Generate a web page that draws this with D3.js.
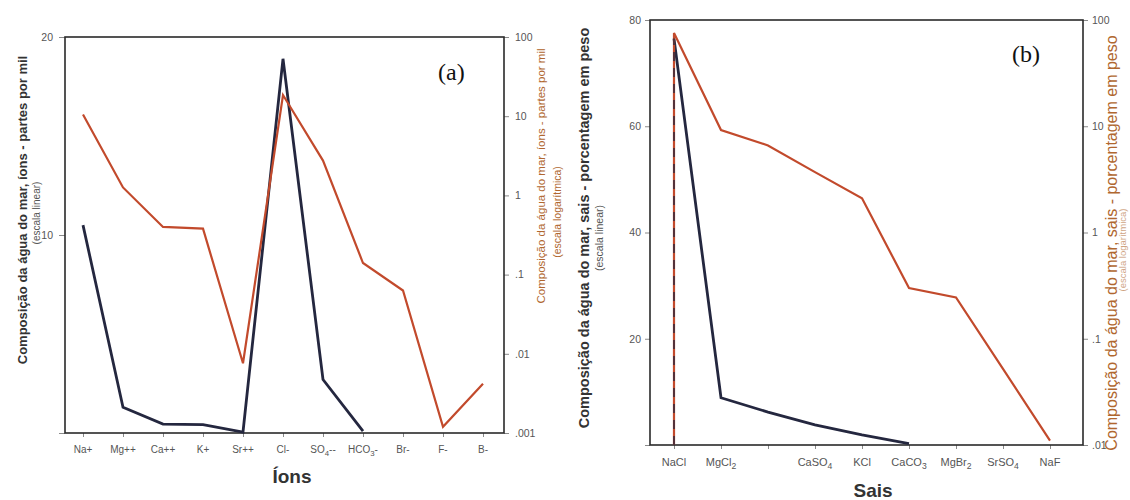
<!DOCTYPE html>
<html>
<head>
<meta charset="utf-8">
<script src="https://cdn.jsdelivr.net/npm/d3@7"></script>
<style>
  body { margin: 0; background: #fff; }
  svg { display: block; font-family: "Liberation Sans", Arial, sans-serif; }
</style>
</head>
<body>
<svg id="chart" width="1130" height="500"></svg>
<script>
// Panel (a): dissolved ions in seawater, parts per thousand
const ions = ["Na+", "Mg++", "Ca++", "K+", "Sr++", "Cl-", "SO4--", "HCO3-", "Br-", "F-", "B-"];
const ionsLinear = [10.5, 1.3, 0.45, 0.42, 0.05, 18.9, 2.7, 0.1];
const ionsLog = [10.5, 1.26, 0.40, 0.38, 0.0076, 18.5, 2.75, 0.14, 0.063, 0.0012, 0.0042];
const ionLinTicks = [0, 10, 20];
const ionLinMinor = [5, 15];
const ionLogTicks = [0.001, 0.01, 0.1, 1, 10, 100];

// Panel (b): salts in seawater, percentage by weight
const salts = ["NaCl", "MgCl2", "", "CaSO4", "KCl", "CaCO3", "MgBr2", "SrSO4", "NaF"];
const saltsLinear = [76.5, 8.9, 6.2, 3.8, 1.9, 0.25];
const saltsLog = [75.5, 9.2, 6.6, 3.7, 2.1, 0.30, 0.245, 0.052, 0.011];
const saltLinTicks = [0, 20, 40, 60, 80];
const saltLinMinor = [10, 30, 50, 70];
const saltLogTicks = [0.01, 0.1, 1, 10, 100];

const DARK = "#24273f";
const RED = "#c24a2c";
const ORANGE = "#b0672f";
const TICK = "#8a8a8a";
const NUM = "#555";

const svg = d3.select("#chart");

// ".1", ".01" style for values below one
const fmtNum = d => d >= 1 ? String(d) : String(d).replace(/^0/, "");

// Chemical formula: digits become subscripts
function chem(text, label, size) {
  const parts = label.match(/\d+|[^\d]+/g) || [];
  let shifted = false;
  parts.forEach(p => {
    const isDigit = /^\d+$/.test(p);
    const t = text.append("tspan").text(p);
    if (isDigit) {
      t.attr("font-size", size * 0.78).attr("dy", size * 0.3);
      shifted = true;
    } else if (shifted) {
      t.attr("dy", -size * 0.3);
      shifted = false;
    }
  });
}

function logMinors(domain) {
  const out = [];
  const lo = Math.round(Math.log10(domain[0])), hi = Math.round(Math.log10(domain[1]));
  for (let e = lo; e < hi; e++) {
    [2, 5].forEach(m => out.push(m * Math.pow(10, e)));
  }
  return out;
}

function panel(cfg) {
  const g = svg.append("g");
  const n = cfg.cats.length;
  const x = d3.scalePoint().domain(d3.range(n)).range([cfg.px0, cfg.px1]);
  const yLin = d3.scaleLinear().domain(cfg.linDomain).range([cfg.y1, cfg.y0]);
  const yLog = d3.scaleLog().domain(cfg.logDomain).range([cfg.y1, cfg.y0]);

  // left linear axis
  const left = g.append("g").attr("transform", `translate(${cfg.x0},0)`);
  left.call(d3.axisLeft(yLin).tickValues(cfg.linMinor).tickSize(3).tickFormat(""));
  left.call(d3.axisLeft(yLin).tickValues(cfg.linTicks).tickSize(cfg.tickL).tickPadding(cfg.padL).tickFormat(fmtNum));
  // right log axis
  const right = g.append("g").attr("transform", `translate(${cfg.x1},0)`);
  right.call(d3.axisRight(yLog).tickValues(logMinors(cfg.logDomain)).tickSize(3).tickFormat(""));
  right.call(d3.axisRight(yLog).tickValues(cfg.logTicks).tickSize(cfg.tickR).tickPadding(cfg.padR).tickFormat(fmtNum));
  // bottom ticks
  const bottom = g.append("g").attr("transform", `translate(0,${cfg.y1})`);
  bottom.call(d3.axisBottom(x).tickSize(4).tickFormat(""));

  [left, right, bottom].forEach(a => {
    a.selectAll(".domain").remove();
    a.selectAll(".tick line").attr("stroke", TICK).attr("stroke-width", 1);
    a.selectAll(".tick text").attr("fill", NUM).attr("font-size", cfg.numSize);
  });

  // category labels
  cfg.cats.forEach((c, i) => {
    if (!c) return;
    const t = g.append("text")
      .attr("x", x(i)).attr("y", cfg.labelY)
      .attr("text-anchor", "middle")
      .attr("font-size", cfg.catSize).attr("fill", NUM);
    chem(t, c, cfg.catSize);
  });

  // frame
  g.append("rect")
    .attr("x", cfg.x0).attr("y", cfg.y0)
    .attr("width", cfg.x1 - cfg.x0).attr("height", cfg.y1 - cfg.y0)
    .attr("fill", "none").attr("stroke", "#2a2a2a").attr("stroke-width", 1.6);

  // series
  const linPts = cfg.linVals.map((v, i) => ({ i, v }));
  const logPts = cfg.logVals.map((v, i) => ({ i, v }));
  if (cfg.fromBaseline) {
    linPts.unshift({ i: 0, v: yLin.domain()[0] });
    logPts.unshift({ i: 0, v: yLog.domain()[0] });
  }
  const lineLin = d3.line().x(d => x(d.i)).y(d => yLin(d.v));
  const lineLog = d3.line().x(d => x(d.i)).y(d => yLog(d.v));

  g.append("path").datum(cfg.fromBaseline ? linPts.slice(1) : linPts)
    .attr("d", lineLin).attr("fill", "none")
    .attr("stroke", DARK).attr("stroke-width", 2.8).attr("stroke-linejoin", "miter");
  g.append("path").datum(logPts)
    .attr("d", lineLog).attr("fill", "none")
    .attr("stroke", RED).attr("stroke-width", 2.2).attr("stroke-linejoin", "miter");
  if (cfg.fromBaseline) {
    // rise of the linear series at the first category, overlaid on the red one
    g.append("path").datum(linPts.slice(0, 2))
      .attr("d", lineLin).attr("fill", "none")
      .attr("stroke", DARK).attr("stroke-width", 2)
      .attr("stroke-dasharray", "9,7").attr("opacity", 0.7);
  }

  // axis titles
  const rot = (tx, ty) => `translate(${tx},${ty}) rotate(-90)`;
  g.append("text").attr("transform", rot(cfg.tL[0], cfg.tL[1]))
    .attr("text-anchor", "middle").attr("dy", "0.35em")
    .attr("font-size", cfg.tL[2]).attr("font-weight", "bold").attr("fill", "#333")
    .text(cfg.titleLin);
  g.append("text").attr("transform", rot(cfg.sL[0], cfg.sL[1]))
    .attr("text-anchor", "middle").attr("dy", "0.35em")
    .attr("font-size", cfg.sL[2]).attr("fill", "#555")
    .text("(escala linear)");
  g.append("text").attr("transform", rot(cfg.tR[0], cfg.tR[1]))
    .attr("text-anchor", "middle").attr("dy", "0.35em")
    .attr("font-size", cfg.tR[2]).attr("fill", ORANGE)
    .text(cfg.titleLog);
  g.append("text").attr("transform", rot(cfg.sR[0], cfg.sR[1]))
    .attr("text-anchor", "middle").attr("dy", "0.35em")
    .attr("font-size", cfg.sR[2]).attr("fill", ORANGE).attr("opacity", cfg.sR[3])
    .text("(escala logarítmica)");

  g.append("text").attr("x", cfg.xt[0]).attr("y", cfg.xt[1])
    .attr("text-anchor", "middle").attr("font-size", 19).attr("font-weight", "bold")
    .attr("fill", "#333").text(cfg.xTitle);

  g.append("text").attr("x", cfg.tag[0]).attr("y", cfg.tag[1])
    .attr("font-family", "'Liberation Serif', 'DejaVu Serif', serif")
    .attr("font-size", 24).attr("fill", "#111").text(cfg.tagText);
}

panel({
  cats: ions, linVals: ionsLinear, logVals: ionsLog,
  linDomain: [0, 20], logDomain: [0.001, 100],
  linTicks: ionLinTicks, linMinor: ionLinMinor, logTicks: ionLogTicks,
  x0: 65, x1: 504, y0: 37, y1: 433, px0: 83, px1: 483,
  tickL: 6, padL: 6, tickR: 5, padR: 6, numSize: 10.5,
  catSize: 10, labelY: 453,
  titleLin: "Composição da água do mar, íons - partes por mil",
  titleLog: "Composição da água do mar, íons - partes por mil",
  tL: [22, 210, 13], sL: [36, 213, 10],
  tR: [541, 176, 11.5], sR: [557, 212, 10.5, 1],
  xTitle: "Íons", xt: [292, 483],
  tagText: "(a)", tag: [438, 80],
  fromBaseline: false
});

panel({
  cats: salts, linVals: saltsLinear, logVals: saltsLog,
  linDomain: [0, 80], logDomain: [0.01, 100],
  linTicks: saltLinTicks, linMinor: saltLinMinor, logTicks: saltLogTicks,
  x0: 650, x1: 1083, y0: 20, y1: 445, px0: 674, px1: 1050,
  tickL: 5, padL: 4, tickR: 5, padR: 4, numSize: 10.5,
  catSize: 11, labelY: 466,
  titleLin: "Composição da água do mar, sais - porcentagem em peso",
  titleLog: "Composição da água do mar, sais - porcentagem em peso",
  tL: [584, 228, 14.5], sL: [599, 238, 10.5],
  tR: [1111, 243, 16], sR: [1123, 250, 9.5, 0.6],
  xTitle: "Sais", xt: [873, 497],
  tagText: "(b)", tag: [1012, 62],
  fromBaseline: true
});
</script>
</body>
</html>
